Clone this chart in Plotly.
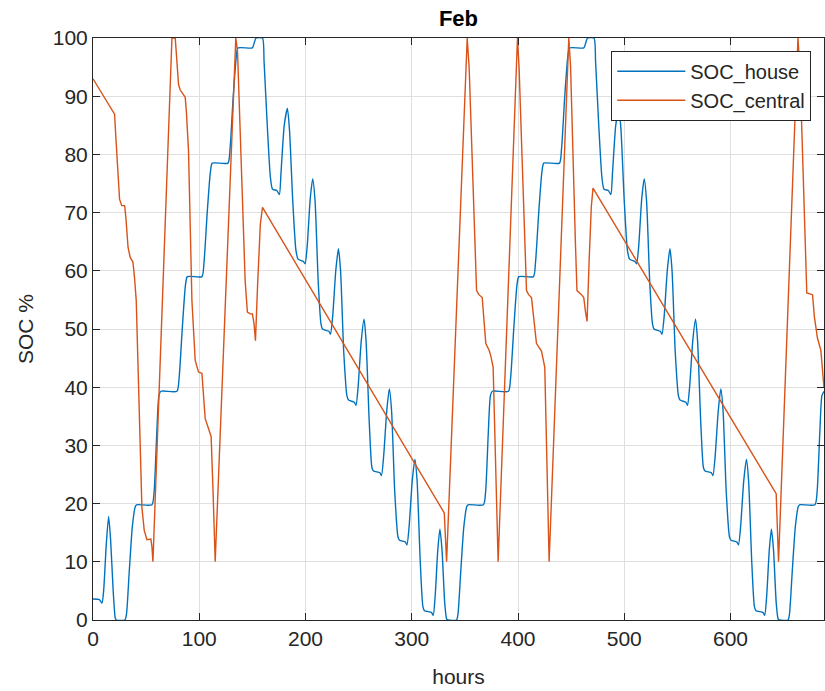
import plotly.graph_objects as go

# ---- data ----
house_hours = [0, 6, 8.4, 10, 12.5, 14.7, 16.5, 19, 21, 22, 30, 31.5, 34, 37, 39.8, 41, 55.5, 57.5, 60, 62, 63.8,
               79, 81, 84, 87, 88.8, 102.5, 104.5, 107.5, 110.5, 112.3, 127, 129, 132, 135, 136.5, 150, 151.5,
               153.5, 159.5, 161, 164, 167, 169, 173, 175.4, 177, 180, 183, 185, 188, 191, 193, 198, 199.6,
               201.5, 204.5, 206.8, 209, 212, 214.5, 216, 222, 223.5, 225.5, 228.5, 231, 233, 236, 239, 240.5,
               246, 247.5, 249.5, 252.5, 255.1, 257, 260, 262.5, 264, 270, 271.5, 273.5, 276.5, 278.9, 281,
               284, 287, 288.5, 294, 295.5, 297.5, 300.5, 303, 305, 308, 310.5, 312, 318.5, 320.2, 322, 324.5,
               326.5, 328.5, 331, 332.8, 334, 342.2,
               343.5, 346, 349, 351.8, 353, 367.5, 369.5, 372, 374, 375.8, 391, 393, 396, 399, 400.8, 414.5,
               416.5, 419.5, 422.5, 424.3, 439, 441, 444, 447, 448.5, 462, 463.5, 465.5, 471.5, 473, 476, 479,
               481, 485, 487.4, 489, 492, 495, 497, 500, 503, 505, 510, 511.6, 513.5, 516.5, 518.8, 521, 524,
               526.5, 528, 534, 535.5, 537.5, 540.5, 543, 545, 548, 551, 552.5, 558, 559.5, 561.5, 564.5, 567.1,
               569, 572, 574.5, 576, 582, 583.5, 585.5, 588.5, 590.9, 593, 596, 599, 600.5, 606, 607.5, 609.5,
               612.5, 615, 617, 620, 622.5, 624, 630.5, 632.2, 634, 636.5, 638.5, 640.5, 643, 644.8, 646, 654.2,
               655.5, 658, 661, 663.8, 665, 679.5, 681.5, 684, 686, 688]
soc_house = [3.6, 3.5, 2.9, 5, 13, 17.8, 14, 5, 0.3, 0, 0, 1, 8, 16, 19.5, 19.8, 19.8, 22, 32, 38.5, 39.3,
             39.3, 41.5, 50, 57.5, 59, 59, 61.5, 70, 77, 78.5, 78.5, 81, 90, 97, 98.3, 98.3, 99,
             100, 100, 96, 85, 76, 74, 73.8, 73.1, 77, 85, 87.9, 84, 72, 63.5, 62, 61.6, 61.2,
             64, 72.5, 75.8, 72, 58, 51, 50, 49.6, 49.1, 52, 60, 63.8, 60, 46, 38.5, 37.8,
             37.4, 36.9, 40, 48, 51.7, 48, 34, 26.2, 25.6, 25.3, 24.8, 28, 36, 39.7, 36,
             22, 14.3, 13.7, 13.4, 12.9, 16, 24, 27.6, 24, 10, 2.3, 1.6, 1.3, 0.8, 4, 12,
             15.6, 12, 3, 0.2, 0, 0,
             1, 8, 16, 19.5, 19.8, 19.8, 22, 32, 38.5, 39.3, 39.3, 41.5, 50, 57.5, 59, 59,
             61.5, 70, 77, 78.5, 78.5, 81, 90, 97, 98.3, 98.3, 99, 100, 100, 96, 85, 76,
             74, 73.8, 73.1, 77, 85, 87.9, 84, 72, 63.5, 62, 61.6, 61.2, 64, 72.5, 75.8, 72, 58,
             51, 50, 49.6, 49.1, 52, 60, 63.8, 60, 46, 38.5, 37.8, 37.4, 36.9, 40, 48, 51.7,
             48, 34, 26.2, 25.6, 25.3, 24.8, 28, 36, 39.7, 36, 22, 14.3, 13.7, 13.4, 12.9, 16,
             24, 27.6, 24, 10, 2.3, 1.6, 1.3, 0.8, 4, 12, 15.6, 12, 3, 0.2, 0, 0,
             1, 8, 16, 19.5, 19.8, 19.8, 22, 32, 38.5, 39.3]

central_hours = [0, 20.3, 21.5, 23.5, 25, 27, 29.8, 31, 33, 35, 37.6, 39, 40.7, 46, 48.2, 50.8, 54.5, 55.5,
                 56.4, 74.3, 77.4, 80.5, 82, 86.8, 88, 89.9, 93.1, 96.2, 99.3, 102.5, 104, 105.6, 108.7,
                 111.2, 113, 115, 134.4, 136, 143.2, 145.3, 148, 150, 151.5, 152.9, 155, 157.5, 159.5,
                 330.6, 332.8, 352.2, 354, 359, 361, 363.2, 366.3, 369.7, 372.9, 374.5, 376.6, 381.3,
                 399.5, 401, 406, 408, 410, 412.7, 417.4, 422.1, 425.2, 429.3, 447.8, 449.5, 454, 455.5,
                 459.7, 461.9, 463.5, 465, 467, 469, 470.6, 643, 645.2, 663.5, 665.5, 670, 671.8, 677.2,
                 679, 681.9, 685, 688]
soc_central = [93, 86.9, 83, 76, 72.3, 71.2, 71.2, 69, 64, 62.3, 61.5, 59, 54.9, 19.4, 15.4, 13.8, 13.9, 12.5,
               10, 100, 100, 92, 91.1, 89.8, 87, 80.6, 54.9, 44.6, 42.6, 42.4, 39, 34.6, 32.9,
               31.5, 22, 10, 100, 97.8, 58.3, 52.9, 52.6, 52.6, 51, 48, 58, 68, 70.9,
               18.4, 10, 100, 95, 65, 56.6, 55.9, 55.4, 47.5, 46.3, 45.3, 43.4, 10,
               100, 95, 65, 56.6, 55.9, 55.4, 47.5, 46.2, 43.4, 10, 100, 95, 65, 56.6,
               55.9, 55.4, 53, 51.3, 62, 71, 74.2, 21.7, 10, 100, 94, 64, 56.2, 55.9,
               52, 48.4, 46.4, 39.9]

x_ticks = [0, 100, 200, 300, 400, 500, 600]
y_ticks = [0, 10, 20, 30, 40, 50, 60, 70, 80, 90, 100]

FONT = "Liberation Sans, Arial, Helvetica, sans-serif"
AX = "#262626"
GRID = "#dfdfdf"

fig = go.Figure()
fig.add_trace(go.Scatter(x=house_hours, y=soc_house, mode="lines", name="SOC_house",
                         line=dict(color="#0072BD", width=1.4, shape="spline", smoothing=0.6)))
fig.add_trace(go.Scatter(x=central_hours, y=soc_central, mode="lines", name="SOC_central",
                         line=dict(color="#D95319", width=1.4)))

axis_common = dict(showgrid=True, gridcolor=GRID, gridwidth=1, zeroline=False,
                   showline=True, linecolor=AX, linewidth=1, mirror="ticks",
                   ticks="inside", ticklen=7, tickcolor=AX, tickwidth=1,
                   tickfont=dict(family=FONT, size=21, color=AX))

fig.update_xaxes(range=[0, 688], tickvals=x_ticks, ticktext=[str(v) for v in x_ticks],
                 title=dict(text="hours", font=dict(family=FONT, size=21, color=AX), standoff=20),
                 **axis_common)
fig.update_yaxes(range=[0, 100], tickvals=y_ticks, ticktext=[str(v) for v in y_ticks],
                 title=dict(text="SOC %", font=dict(family=FONT, size=21, color=AX), standoff=13),
                 **axis_common)

fig.update_layout(
    width=825, height=691,
    margin=dict(l=93, r=1, t=38, b=71),
    paper_bgcolor="white", plot_bgcolor="white",
    title=dict(text="<b>Feb</b>", x=0.5557, xanchor="center", y=0.973, yanchor="middle",
               font=dict(family=FONT, size=22, color="black")),
    legend=dict(x=0.709, y=0.978, xanchor="left", yanchor="top",
                bgcolor="white", bordercolor=AX, borderwidth=1,
                font=dict(family=FONT, size=20, color=AX), itemwidth=68, tracegroupgap=0),
    showlegend=True,
)

# remove the default 8px page margin so the 825x691 figure fills the window exactly
fig.write_html("out.html", config={"displayModeBar": False},
               post_script="document.body.style.margin='0';document.body.style.overflow='hidden';")
